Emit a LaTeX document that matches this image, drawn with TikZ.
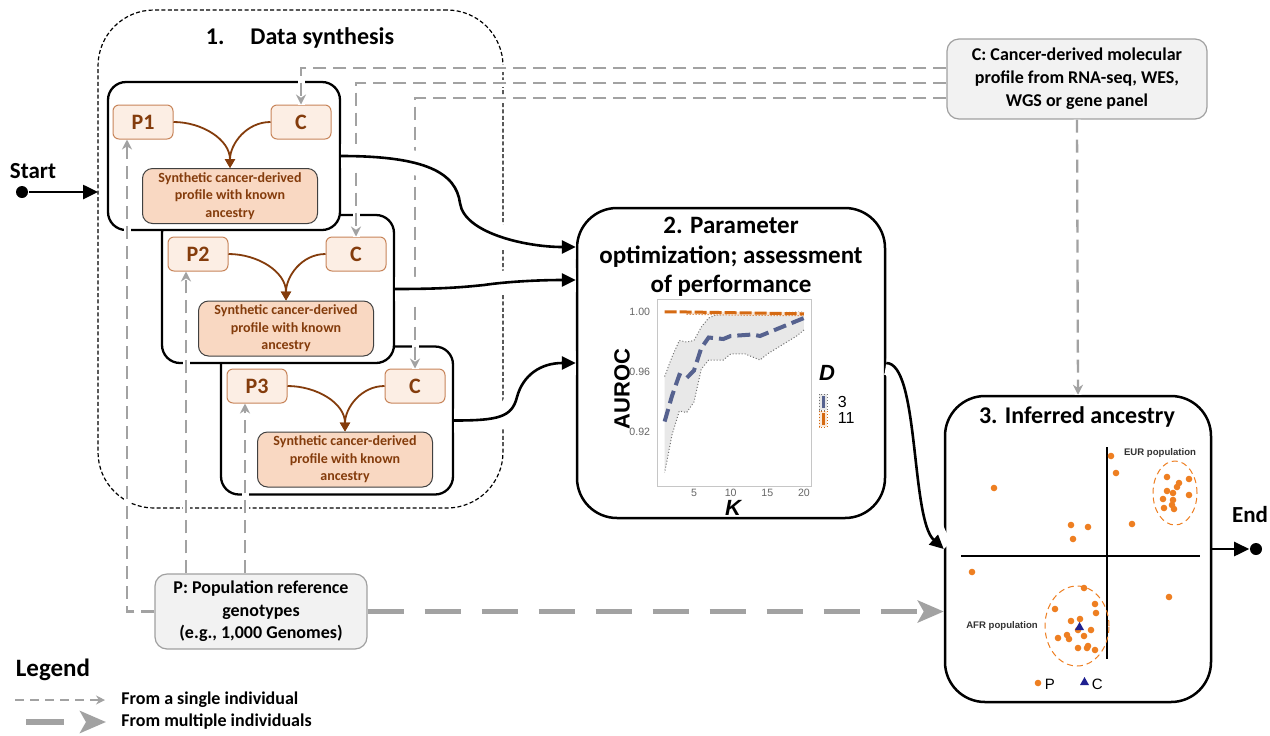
\documentclass[tikz,border=0pt]{standalone}
\usepackage{fontspec}
\setmainfont{Carlito}
\newfontfamily\plotfont{Liberation Sans}
\usepackage{tikz}
\usetikzlibrary{arrows.meta}

\definecolor{brownish}{HTML}{843C0C}
\definecolor{peachlight}{HTML}{FCEEE4}
\definecolor{peachedge}{HTML}{C8855A}
\definecolor{peachfill}{HTML}{F9D8C2}
\definecolor{arrowgray}{HTML}{A2A2A2}
\definecolor{boxgray}{HTML}{F2F2F2}
\definecolor{boxedge}{HTML}{A0A0A0}
\definecolor{dotorange}{HTML}{EE7F22}
\definecolor{trinavy}{HTML}{1F2090}
\definecolor{lineblue}{HTML}{56628F}
\definecolor{lineorange}{HTML}{D56A13}

\tikzset{
  inbox/.style={draw=peachedge, fill=peachlight, rounded corners=3pt, line width=0.5pt,
    minimum width=30pt, minimum height=17pt, text=brownish,
    font=\fontsize{11}{13}\selectfont\bfseries},
  synthbox/.style={draw=black!75, fill=peachfill, rounded corners=5pt, line width=0.5pt,
    minimum width=87.5pt, minimum height=27.5pt, inner sep=1pt, text=brownish, align=center,
    font=\fontsize{7}{8.75}\selectfont\bfseries},
  stagebox/.style={draw, fill=white, rounded corners=9pt, line width=1.15pt,
    minimum width=116pt, minimum height=74pt},
  bigbox/.style={draw, fill=white, rounded corners=20pt, line width=1.25pt},
  srcbox/.style={draw=boxedge, fill=boxgray, rounded corners=6pt, line width=0.6pt,
    inner sep=1pt, align=center},
  mix/.style={draw=brownish, line width=0.9pt, -{Triangle[length=4.5pt,width=5pt]}},
  single/.style={draw=arrowgray, line width=1.15pt, dash pattern=on 6.5pt off 3.5pt,
    -{Stealth[length=5pt,width=5pt]}, preaction={draw=white, line width=3.5pt, solid, -}},
  multi/.style={draw=arrowgray, line width=2.7pt, dash pattern=on 18pt off 10.5pt,
    -{Stealth[length=13pt,width=11pt,inset=3pt]}},
  flow/.style={line width=1.3pt, -{Triangle[length=7pt,width=6.5pt]},
    preaction={draw=white, line width=12pt, -}},
  endpoint/.style={circle, fill, inner sep=0pt, minimum size=6pt},
  tick/.style={font=\plotfont\fontsize{5.3}{6}\selectfont, text=black!60, inner sep=1pt},
}

\begin{document}
\begin{tikzpicture}[x=0.5pt, y=-0.5pt, thick]
\useasboundingbox (0,0) rectangle (1270,735);

%%%%% Data synthesis %%%%%
\node[draw, line width=0.6pt, dash pattern=on 2pt off 1.2pt, rounded corners=28pt,
  minimum width=202.5pt, minimum height=249pt] (synth) at (300.5,259) {};
\node[font=\fontsize{12}{14}\selectfont\bfseries] (title1) at (300,38) {1.\hspace{13pt}Data synthesis};

\foreach \i/\bx/\by/\px/\cx/\ry/\sx/\sy in
  {3/337/420.5/257/415/386/345/459.5, 2/278/289/198/356/254/286/328.5, 1/224/156/143/301/122/230/196}{
  \node[stagebox] (box\i) at (\bx,\by) {};
  \node[inbox] (P\i) at (\px,\ry) {P\i};
  \node[inbox] (C\i) at (\cx,\ry) {C};
  \node[synthbox] (S\i) at (\sx,\sy) {Synthetic cancer-derived\\profile with known\\ancestry};
  \draw[mix] (P\i.east) to[out=0,in=90] (S\i.north);
  \draw[mix] (C\i.west) to[out=180,in=90] (S\i.north);
}

%%%%% Parameter optimization %%%%%
\node[bigbox, minimum width=154pt, minimum height=155pt] (param) at (731,363) {};
\node[font=\fontsize{12.5}{14.75}\selectfont\bfseries, align=center] (title2) at (731,257)
  {2. Parameter\\optimization; assessment\\of performance};

%%%%% Inferred ancestry %%%%%
\node[bigbox, minimum width=133pt, minimum height=153pt] (infer) at (1078,549) {};
\node[font=\fontsize{12}{14}\selectfont\bfseries] (title3) at (1077,417) {3. Inferred ancestry};

%%%%% Inputs %%%%%
\node[srcbox, minimum width=130pt, minimum height=40pt, font=\fontsize{9}{11.5}\selectfont\bfseries]
  (Cbox) at (1077,79) {C: Cancer-derived molecular\\profile from RNA-seq, WES,\\WGS or gene panel};
\node[srcbox, minimum width=106pt, minimum height=37.5pt, font=\fontsize{9}{11.25}\selectfont\bfseries]
  (Pbox) at (261,611.5) {P: Population reference\\genotypes\\(e.g., 1,000 Genomes)};

\draw[single] (Pbox.west) -| ([xshift=-8pt]P1.south);
\draw[single] ([xshift=-37.5pt]Pbox.north) -- ([xshift=-37.5pt]Pbox.north |- P2.south);
\draw[single] ([xshift=-8pt]Pbox.north) -- ([xshift=-8pt]Pbox.north |- P3.south);
\draw[single] ([yshift=5.5pt]Cbox.west) -| (C1.north);
\draw[single] ([yshift=-2pt]Cbox.west) -| (C2.north);
\draw[single] ([yshift=-9.5pt]Cbox.west) -| (C3.north);
\draw[single] (Cbox.south) -- (infer.north);

%%%%% Flow %%%%%
\coordinate (k1) at (460,203);
\coordinate (k2) at (484,285);
\coordinate (k3) at (517,397);
\draw[flow] (box1.east) .. controls +(85,0) and +(-4,-30) .. (k1)
  .. controls +(4,30) and +(-50,0) .. ([yshift=58pt]param.west);
\draw[flow] (box2.east) .. controls +(50,0) and +(-20,2) .. (k2)
  .. controls +(20,-3) and +(-40,0) .. ([yshift=41.5pt]param.west);
\draw[flow] (box3.east) .. controls +(45,0) and +(-5,20) .. (k3)
  .. controls +(6,-22) and +(-35,0) .. (param.west);
\draw[flow] (param.east) .. controls +(33,0) and +(-33,-30) .. (infer.west);
\draw[multi] (Pbox.east) -- (Pbox.east -| infer.west);

%%%%% Start / End %%%%%
\node[endpoint] (startdot) at (22,192) {};
\node[font=\fontsize{11.5}{13}\selectfont\bfseries] (starttxt) at (33,171) {Start};
\coordinate (startin) at (98,192);
\draw[line width=1.3pt, -{Triangle[length=7.5pt,width=7pt]}] (startdot) -- (startin);
\node[endpoint] (enddot) at (1256,549) {};
\node[font=\fontsize{11.5}{13}\selectfont\bfseries] (endtxt) at (1250,515) {End};
\draw[line width=1.3pt, -{Triangle[length=7.5pt,width=7pt]}] (infer.east) -- (enddot);

%%%%% AUROC plot %%%%%
\begin{scope}[shift={(328.65pt,-231pt)}, x=3.667pt, y=750pt]
\fill[gray!18] (1,0.057) -- (2,0.070) -- (3,0.081) -- (4,0.080) -- (5,0.081) -- (6,0.090)
  -- (7,0.096) -- (8,0.098) -- (12,0.099) -- (20,0.100) -- (20,0.088) -- (19,0.084) -- (18,0.081)
  -- (17,0.078) -- (16,0.075) -- (15,0.072) -- (14,0.068) -- (13,0.070) -- (12,0.072) -- (10,0.072)
  -- (9,0.068) -- (7,0.068) -- (6,0.062) -- (5,0.040) -- (4,0.033) -- (3,0.034) -- (2,0.018)
  -- (1,-0.007) -- cycle;
\draw[black!55, densely dotted, line width=0.5pt] (1,0.057) -- (2,0.070) -- (3,0.081) -- (4,0.080)
  -- (5,0.081) -- (6,0.090) -- (7,0.096) -- (8,0.098) -- (12,0.099) -- (20,0.100);
\draw[black!55, densely dotted, line width=0.5pt] (20,0.088) -- (19,0.084) -- (18,0.081) -- (17,0.078)
  -- (16,0.075) -- (15,0.072) -- (14,0.068) -- (13,0.070) -- (12,0.072) -- (10,0.072) -- (9,0.068)
  -- (7,0.068) -- (6,0.062) -- (5,0.040) -- (4,0.033) -- (3,0.034) -- (2,0.018) -- (1,-0.007);
\fill[lineorange!15] (4,0.0998) -- (20,0.1) -- (20,0.0975) -- (12,0.0978) -- (4,0.0985) -- cycle;
\draw[lineorange, densely dotted, line width=0.5pt] (4,0.0985) -- (12,0.0978) -- (20,0.0975);
\draw[lineorange, line width=1.5pt, dash pattern=on 6pt off 1.5pt] (1,0.1) -- (4,0.1) -- (20,0.0988);
\draw[lineblue, line width=2pt, dash pattern=on 6.5pt off 3pt] (1,0.027) -- (2,0.044) -- (3,0.058)
  -- (4,0.056) -- (5,0.061) -- (6,0.076) -- (7,0.083) -- (9,0.082) -- (10,0.084) -- (13,0.085)
  -- (14,0.084) -- (15,0.086) -- (17,0.090) -- (20,0.096);
\draw[gray!45, line width=0.4pt] (0,-0.016) rectangle (20.97,0.1087);
\foreach \v/\l [count=\i] in {0.1/1.00, 0.06/0.96, 0.02/0.92}{
  \node[tick, anchor=east] (ytick\i) at (-0.6,\v) {\l};
}
\foreach \k in {5,10,15,20}{
  \node[tick] (xtick\k) at (\k,-0.0205) {\k};
}
\end{scope}
\node[rotate=90, font=\plotfont\bfseries\fontsize{11}{13}\selectfont] (auroc) at (622,389) {AUROC};
\node[font=\plotfont\bfseries\itshape\fontsize{11}{13}\selectfont] (klab) at (733,508) {K};
\node[font=\plotfont\bfseries\itshape\fontsize{11}{13}\selectfont] (dlab) at (827,373) {D};
\draw[black!55, densely dotted, line width=0.5pt, fill=gray!18] (819,394) rectangle (827,410);
\draw[lineblue, line width=1.5pt] (823,396) -- (823,408);
\draw[lineorange, densely dotted, line width=0.5pt, fill=lineorange!15] (819,411) rectangle (827,427);
\draw[lineorange, line width=1.5pt] (823,413) -- (823,425);
\node[anchor=west, inner sep=0pt, font=\plotfont\fontsize{8}{9}\selectfont] (dthree) at (837,402) {3};
\node[anchor=west, inner sep=0pt, font=\plotfont\fontsize{8}{9}\selectfont] (deleven) at (837,418) {11};

%%%%% PCA scatter %%%%%
\draw[line width=0.7pt] (1107,447) -- (1107,659);
\draw[line width=0.7pt] (961,556) -- (1200,556);
\draw[dotorange, densely dashed, line width=0.5pt] (1175,493) ellipse [x radius=11pt, y radius=16pt];
\draw[dotorange, densely dashed, line width=0.5pt] (1077,626) ellipse [x radius=16pt, y radius=20pt];
\foreach \x/\y in {1111/456, 1116/473, 994/488, 1071/525, 1088/527, 1073/539, 1132/524, 972/572, 1169/597,
  1167/477, 1189/479, 1179/483, 1177/487, 1167/491, 1173/493, 1163/499, 1189/495, 1173/500, 1164/508,
  1174/509, 1172/505, 1084/588, 1095/604, 1055/609, 1096/613, 1071/621, 1080/619, 1091/630, 1078/630,
  1067/635, 1058/638, 1084/636, 1069/639, 1078/648, 1088/646, 1095/650, 1087/648, 1038/683}{
  \fill[dotorange] (\x,\y) circle (1.65pt);
}
\fill[trinavy] (1075,630) -- (1084,630) -- (1079.5,622) -- cycle;
\fill[trinavy] (1080,685) -- (1089,685) -- (1084.5,677) -- cycle;
\node[font=\plotfont\bfseries\fontsize{4.8}{6}\selectfont, text=black!80] (eurlab) at (1160,453) {EUR population};
\node[font=\plotfont\bfseries\fontsize{4.8}{6}\selectfont, text=black!80] (afrlab) at (1002,626) {AFR population};
\node[anchor=west, inner sep=0pt, font=\plotfont\fontsize{7.5}{9}\selectfont] (plab) at (1044,684) {P};
\node[anchor=west, inner sep=0pt, font=\plotfont\fontsize{7.5}{9}\selectfont] (clab) at (1091,684) {C};

%%%%% Legend %%%%%
\node[font=\fontsize{12.5}{14}\selectfont\bfseries] (legtitle) at (53,670) {Legend};
\coordinate (lsa) at (15,700);
\coordinate (lsb) at (105,700);
\coordinate (lma) at (26,722);
\coordinate (lmb) at (106,722);
\draw[draw=arrowgray, line width=1pt, dash pattern=on 4.5pt off 3pt, -{Stealth[length=4.5pt,width=4.5pt]}] (lsa) -- (lsb);
\draw[multi, dash pattern=on 19pt off 20pt] (lma) -- (lmb);
\node[anchor=west, font=\fontsize{9}{11}\selectfont\bfseries] (legsingle) at (114,700) {From a single individual};
\node[anchor=west, font=\fontsize{9}{11}\selectfont\bfseries] (legmulti) at (114,722) {From multiple individuals};
\end{tikzpicture}
\end{document}
